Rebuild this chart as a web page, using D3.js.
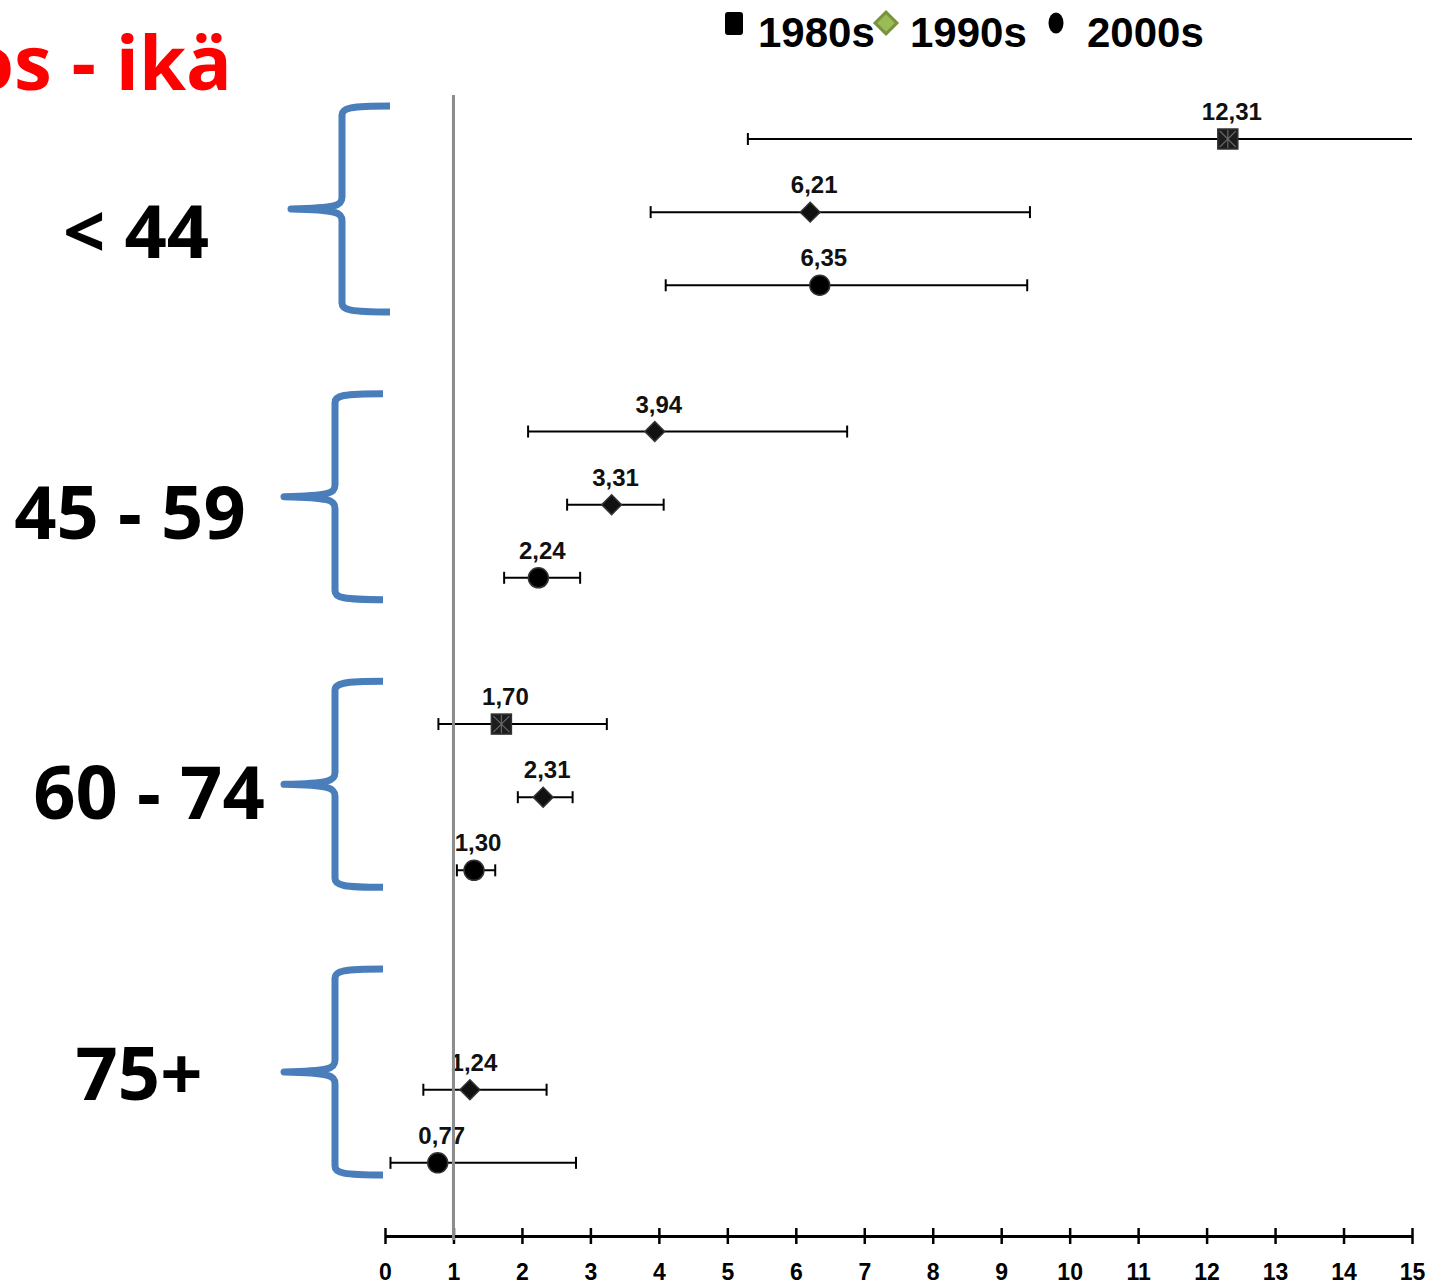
<!DOCTYPE html>
<html>
<head>
<meta charset="utf-8">
<script src="https://cdn.jsdelivr.net/npm/d3@7"></script>
<style>
  html, body { margin: 0; padding: 0; background: #fff; }
  svg { display: block; }
</style>
</head>
<body>
<div id="chart"></div>
<script>
// age groups and decades
const groups = ['< 44', '45 - 59', '60 - 74', '75+'];
const periods = ['1980s', '1990s', '2000s'];

// point estimates and confidence limits, [group][period]; null = no estimate
const estimate = [[12.31, 6.21, 6.35], [3.94, 3.31, 2.24], [1.70, 2.31, 1.30], [null, 1.24, 0.77]];
const lower = [[5.30, 3.88, 4.10], [2.09, 2.66, 1.74], [0.78, 1.94, 1.05], [null, 0.56, 0.08]];
const upper = [[16.5, 9.42, 9.38], [6.75, 4.07, 2.85], [3.24, 2.74, 1.61], [null, 2.36, 2.79]];
const markerShape = [
  ['square', 'diamond', 'circle'],
  ['diamond', 'diamond', 'circle'],
  ['square', 'diamond', 'circle'],
  [null, 'diamond', 'circle']
];

const xTicks = [0, 1, 2, 3, 4, 5, 6, 7, 8, 9, 10, 11, 12, 13, 14, 15];
const titleText = 'Tulos - ikä';

const W = 1443, H = 1285;
const ARIAL = '"Liberation Sans", Arial, sans-serif';
const CAL = '"Open Sans", Lato, sans-serif';
const BLUE = '#4a7ebb';

const svg = d3.select('#chart').append('svg')
  .attr('width', W).attr('height', H);

const x = d3.scaleLinear().domain([0, 15]).range([385, 1412]);
// one slot per row; groups of 3 rows separated by an empty slot
const y = d3.scaleLinear().domain([0, 15]).range([139, 1236]);

const rows = [];
groups.forEach((g, gi) => {
  periods.forEach((p, pi) => {
    if (estimate[gi][pi] == null) return;
    rows.push({
      group: g, period: p, slot: gi * 4 + pi,
      est: estimate[gi][pi], lo: lower[gi][pi], hi: upper[gi][pi],
      shape: markerShape[gi][pi]
    });
  });
});

// title (runs off the left edge)
svg.append('text')
  .attr('x', 232).attr('y', 90)
  .attr('text-anchor', 'end')
  .attr('font-family', CAL).attr('font-weight', 700).attr('font-size', 76)
  .attr('fill', '#ff0000')
  .text(titleText);

// legend
const leg = svg.append('g').attr('font-family', ARIAL).attr('font-weight', 700).attr('font-size', 42);
leg.append('rect').attr('x', 725).attr('y', 12).attr('width', 18).attr('height', 23).attr('rx', 3).attr('fill', '#000');
leg.append('text').attr('x', 758).attr('y', 47).text(periods[0]);
leg.append('path').attr('d', d3.symbol(d3.symbolSquare, 240)())
  .attr('transform', 'translate(886,23) rotate(45)')
  .attr('fill', '#9bbb59').attr('stroke', '#77933c').attr('stroke-width', 3);
leg.append('text').attr('x', 910).attr('y', 47).text(periods[1]);
leg.append('ellipse').attr('cx', 1056).attr('cy', 23).attr('rx', 7.5).attr('ry', 10.5).attr('fill', '#000');
leg.append('text').attr('x', 1087).attr('y', 47).text(periods[2]);

// group labels and braces
const labelY = d3.scaleLinear().domain([0, 3]).range([258, 1100]);
const braceY = d3.scaleLinear().domain([0, 3]).range([209, 1072]);
const groupLabelX = [136, 130, 149, 139];

svg.append('g').selectAll('text').data(groups).join('text')
  .attr('x', (d, i) => groupLabelX[i])
  .attr('y', (d, i) => labelY(i))
  .attr('text-anchor', 'middle')
  .attr('font-family', CAL).attr('font-weight', 700).attr('font-size', 74)
  .attr('fill', '#000')
  .text(d => d);

function bracePath(cy, right) {
  const h = 103, v = right - 48, tip = right - 99;
  return `M${right},${cy - h} C${v + 8},${cy - h} ${v},${cy - h + 2} ${v},${cy - h + 9}`
    + ` L${v},${cy - 12} C${v},${cy - 3} ${v - 6},${cy - 1} ${tip},${cy}`
    + ` C${v - 6},${cy + 1} ${v},${cy + 3} ${v},${cy + 12}`
    + ` L${v},${cy + h - 9} C${v},${cy + h - 2} ${v + 8},${cy + h} ${right},${cy + h}`;
}

svg.append('g').selectAll('path').data(groups).join('path')
  .attr('d', (d, i) => bracePath(braceY(i), i === 0 ? 390 : 383))
  .attr('fill', 'none').attr('stroke', BLUE).attr('stroke-width', 7)
  .attr('stroke-linejoin', 'round');

// x axis
const axis = svg.append('g')
  .attr('transform', `translate(0,${y(15)})`)
  .call(d3.axisBottom(x).tickValues(xTicks).tickSizeInner(8).tickSizeOuter(0).tickFormat(d3.format('d')));
axis.select('.domain').attr('stroke', '#000').attr('stroke-width', 3);
axis.selectAll('.tick line').attr('y1', -8).attr('y2', 8).attr('stroke', '#000').attr('stroke-width', 2.5);
axis.selectAll('.tick text')
  .attr('y', 44).attr('dy', 0)
  .attr('font-family', ARIAL).attr('font-weight', 700).attr('font-size', 23).attr('fill', '#000');

// error bars
const bars = svg.append('g').selectAll('g').data(rows).join('g')
  .attr('transform', d => `translate(0,${y(d.slot)})`);
bars.append('line')
  .attr('x1', d => x(d.lo)).attr('x2', d => x(Math.min(d.hi, 15)))
  .attr('stroke', '#000').attr('stroke-width', 2);
bars.append('line')
  .attr('x1', d => x(d.lo)).attr('x2', d => x(d.lo)).attr('y1', -6).attr('y2', 6)
  .attr('stroke', '#000').attr('stroke-width', 2);
bars.filter(d => d.hi <= 15).append('line')
  .attr('x1', d => x(d.hi)).attr('x2', d => x(d.hi)).attr('y1', -6).attr('y2', 6)
  .attr('stroke', '#000').attr('stroke-width', 2);

// markers
const marks = bars.append('g').attr('transform', d => `translate(${x(d.est)},0)`);
marks.filter(d => d.shape === 'square').each(function () {
  const g = d3.select(this);
  g.append('rect').attr('x', -10).attr('y', -10).attr('width', 20).attr('height', 20)
    .attr('fill', '#1c1c1c').attr('stroke', '#333').attr('stroke-width', 1.5);
  g.append('path').attr('d', 'M-8,-8L8,8M8,-8L-8,8M0,-9L0,9')
    .attr('stroke', '#666').attr('stroke-width', 1.2);
});
marks.filter(d => d.shape === 'diamond').append('path')
  .attr('d', d3.symbol(d3.symbolSquare, 196)())
  .attr('transform', 'rotate(45)')
  .attr('fill', '#111').attr('stroke', '#333').attr('stroke-width', 1.5);
marks.filter(d => d.shape === 'circle').append('circle')
  .attr('r', 10).attr('fill', '#000').attr('stroke', '#333').attr('stroke-width', 1.5);

// value labels
const fmt = v => d3.format('.2f')(v).replace('.', ',');
bars.append('text')
  .attr('x', d => x(d.est) + 4).attr('y', -19)
  .attr('text-anchor', 'middle')
  .attr('font-family', ARIAL).attr('font-weight', 700).attr('font-size', 24)
  .attr('fill', '#111')
  .text(d => fmt(d.est));

// reference line at 1
svg.append('line')
  .attr('x1', x(1)).attr('x2', x(1))
  .attr('y1', 95).attr('y2', y(15) + 4)
  .attr('stroke', '#8c8c8c').attr('stroke-width', 3);
</script>
</body>
</html>
